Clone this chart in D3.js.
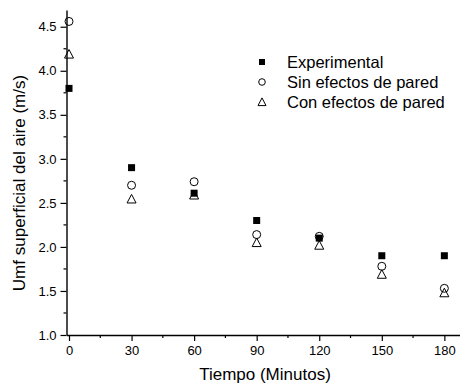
<!DOCTYPE html>
<html>
<head>
<meta charset="utf-8">
<script src="https://cdn.jsdelivr.net/npm/d3@7"></script>
<style>
  body { margin: 0; background: #fff; }
  text { font-family: "Liberation Sans", Arial, sans-serif; fill: #000; }
</style>
</head>
<body>
<svg id="chart" width="460" height="383"></svg>
<script>
// data
var tiempo = [0, 30, 60, 90, 120, 150, 180];
var experimental = [3.80, 2.90, 2.61, 2.30, 2.10, 1.90, 1.90];
var sinEfectos = [4.56, 2.70, 2.74, 2.14, 2.12, 1.78, 1.53];
var conEfectos = [4.19, 2.545, 2.59, 2.05, 2.02, 1.69, 1.48];
var xTicks = [0, 30, 60, 90, 120, 150, 180];
var yTicks = [1.0, 1.5, 2.0, 2.5, 3.0, 3.5, 4.0, 4.5];
var seriesNames = ["Experimental", "Sin efectos de pared", "Con efectos de pared"];

var svg = d3.select("#chart");

var x = d3.scaleLinear().domain([-1.2, 187.5]).range([66.5, 460]);
var y = d3.scaleLinear().domain([1.0, 4.69]).range([335, 10]);

/* axes */
var xAxis = d3.axisBottom(x).tickValues(xTicks).tickSize(6).tickSizeOuter(0).tickPadding(5)
  .tickFormat(d3.format("d"));
var gx = svg.append("g").attr("transform", "translate(0," + y(1.0) + ")").call(xAxis);

var yAxis = d3.axisLeft(y).tickValues(yTicks).tickSize(6).tickSizeOuter(0).tickPadding(4)
  .tickFormat(d3.format(".1f"));
var gy = svg.append("g").attr("transform", "translate(" + x(-1.2) + ",0)").call(yAxis);

// minor ticks
var xMinor = d3.range(15, 186, 30);
gx.selectAll(".minor").data(xMinor).enter().append("line")
  .attr("x1", function(d) { return x(d); }).attr("x2", function(d) { return x(d); })
  .attr("y1", 0).attr("y2", 3).attr("stroke", "#000").attr("stroke-width", 1.2);

var yMinor = d3.range(1.25, 4.69, 0.5);
gy.selectAll(".minor").data(yMinor).enter().append("line")
  .attr("y1", function(d) { return y(d); }).attr("y2", function(d) { return y(d); })
  .attr("x1", 0).attr("x2", -3).attr("stroke", "#000").attr("stroke-width", 1.2);

[gx, gy].forEach(function(g) {
  g.select(".domain").attr("stroke", "#000").attr("stroke-width", 1.4);
  g.selectAll(".tick line").attr("stroke", "#000").attr("stroke-width", 1.2);
  g.selectAll(".tick text").attr("font-size", "13px")
    .style("font-family", "'Liberation Sans', Arial, sans-serif");
});

/* axis titles */
svg.append("text").attr("x", 265).attr("y", 380).attr("text-anchor", "middle")
  .attr("font-size", "17px").text("Tiempo (Minutos)");
svg.append("text").attr("transform", "translate(25,183) rotate(-90)")
  .attr("text-anchor", "middle").attr("font-size", "17px")
  .text("Umf superficial del aire (m/s)");

/* markers */
function square(g, s) {
  return g.append("rect").attr("x", -s / 2).attr("y", -s / 2).attr("width", s).attr("height", s)
    .attr("fill", "#000");
}
function circle(g, r) {
  return g.append("circle").attr("r", r).attr("fill", "none").attr("stroke", "#000").attr("stroke-width", 1);
}
function triangle(g, w) {
  var h = w * 0.9;
  return g.append("path")
    .attr("d", "M0," + (-h / 2 - 0.5) + "L" + (w / 2) + "," + (h / 2) + "L" + (-w / 2) + "," + (h / 2) + "Z")
    .attr("fill", "none").attr("stroke", "#000").attr("stroke-width", 1);
}

var painters = [
  function(g) { square(g, 7); },
  function(g) { circle(g, 4); },
  function(g) { triangle(g, 9); }
];
var allSeries = [experimental, sinEfectos, conEfectos];

allSeries.forEach(function(vals, i) {
  svg.append("g").selectAll("g").data(vals).enter().append("g")
    .attr("transform", function(d, j) { return "translate(" + x(tiempo[j]) + "," + y(d) + ")"; })
    .each(function() { painters[i](d3.select(this)); });
});

/* legend */
var legendPainters = [
  function(g) { square(g, 6); },
  function(g) { circle(g, 3.3); },
  function(g) { triangle(g, 8); }
];
var legend = svg.append("g").attr("transform", "translate(262,62)");
seriesNames.forEach(function(name, i) {
  var row = legend.append("g").attr("transform", "translate(0," + (i * 20) + ")");
  legendPainters[i](row.append("g"));
  row.append("text").attr("x", 25).attr("y", 5.5).attr("font-size", "16.5px").text(name);
});
</script>
</body>
</html>
